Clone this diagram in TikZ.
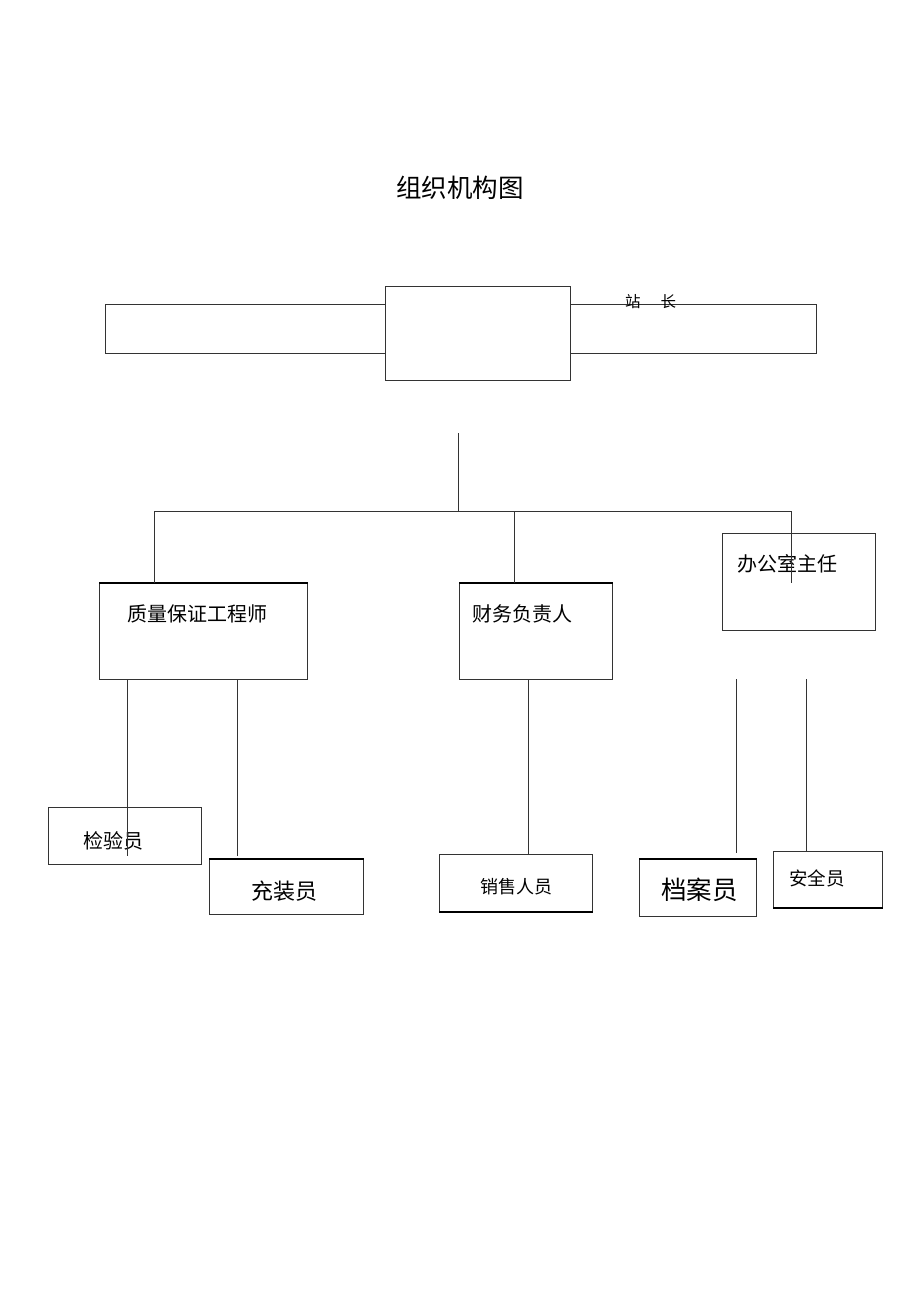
\documentclass[tikz,border=0pt]{standalone}
\usepackage{fontspec}
\newfontfamily\cjk{Noto Sans CJK SC}
\begin{document}
\begin{tikzpicture}[x=1pt,y=-1pt,
  box/.style={draw=black!80, line width=0.8pt, anchor=north west, inner sep=0pt, fill=none},
  lbl/.style={anchor=west, inner sep=0pt, font=\cjk},
  conn/.style={draw=black!80, line width=0.8pt},
  thick edge/.style={draw=black, line width=1.8pt}]
\useasboundingbox (0,0) rectangle (920,1303);
% title
\node[font=\cjk\fontsize{25.5}{25.5}\selectfont, inner sep=0pt] (title) at (460,188) {组织机构图};
% top structure
\node[box, minimum width=280pt, minimum height=49pt] (lbar) at (105,304) {};
\node[box, minimum width=246pt, minimum height=49pt] (rbar) at (570,304) {};
\node[box, minimum width=185pt, minimum height=94pt, fill=white] (head) at (385,286) {};
\node[lbl, font=\cjk\fontsize{15.5}{15.5}\selectfont] (zz) at (625,302) {站\hspace{20pt}长};
% middle boxes
\node[box, minimum width=208pt, minimum height=96pt] (qa) at (99,583) {};
\node[box, minimum width=153pt, minimum height=96pt] (fin) at (459,583) {};
\node[box, minimum width=153pt, minimum height=97pt] (off) at (722,533) {};
\draw[thick edge] (qa.north west) -- (qa.north east);
\draw[thick edge] (fin.north west) -- (fin.north east);
\node[lbl, font=\cjk\fontsize{20}{20}\selectfont] (qat) at (127,614) {质量保证工程师};
\node[lbl, font=\cjk\fontsize{20}{20}\selectfont] (fint) at (472,614) {财务负责人};
\node[lbl, font=\cjk\fontsize{20}{20}\selectfont] (offt) at (737,564) {办公室主任};
% bottom boxes
\node[box, minimum width=153pt, minimum height=57pt] (jy) at (48,807) {};
\node[box, minimum width=154pt, minimum height=55pt] (cz) at (209,859) {};
\node[box, minimum width=153pt, minimum height=57pt] (xs) at (439,854) {};
\node[box, minimum width=117pt, minimum height=57pt] (da) at (639,859) {};
\node[box, minimum width=109pt, minimum height=56pt] (aq) at (773,851) {};
\draw[thick edge] (cz.north west) -- (cz.north east);
\draw[thick edge] (xs.south west) -- (xs.south east);
\draw[thick edge] (da.north west) -- (da.north east);
\draw[thick edge] (aq.south west) -- (aq.south east);
\node[lbl, font=\cjk\fontsize{20}{20}\selectfont] (jyt) at (83,841) {检验员};
\node[lbl, font=\cjk\fontsize{22}{22}\selectfont] (czt) at (251,891) {充装员};
\node[lbl, font=\cjk\fontsize{18}{18}\selectfont] (xst) at (480,887) {销售人员};
\node[lbl, font=\cjk\fontsize{25.5}{25.5}\selectfont] (dat) at (661,890) {档案员};
\node[lbl, font=\cjk\fontsize{18.5}{18.5}\selectfont] (aqt) at (789,878) {安全员};
% connectors
\coordinate (stem) at (458,433);
\coordinate (bus) at (458,511);
\coordinate (busL) at (154,511);
\coordinate (busM) at (514,511);
\coordinate (busR) at (791,511);
\coordinate (offIn) at (791,583);
\draw[conn] (stem) -- (bus);
\draw[conn] (busL) -- (busR);
\draw[conn] (busL) -- (busL |- qa.north);
\draw[conn] (busM) -- (busM |- fin.north);
\draw[conn] (busR) -- (offIn);
\coordinate (jyEnd) at (127,856);
\coordinate (czEnd) at (237,856);
\draw[conn] (jyEnd |- qa.south) -- (jyEnd);
\draw[conn] (czEnd |- qa.south) -- (czEnd);
\draw[conn] (528,679) -- (528,679 |- xs.north);
\coordinate (daTop) at (736,679);
\coordinate (daEnd) at (736,853);
\coordinate (aqTop) at (806,679);
\draw[conn] (daTop) -- (daEnd);
\draw[conn] (aqTop) -- (aqTop |- aq.north);
\end{tikzpicture}
\end{document}
